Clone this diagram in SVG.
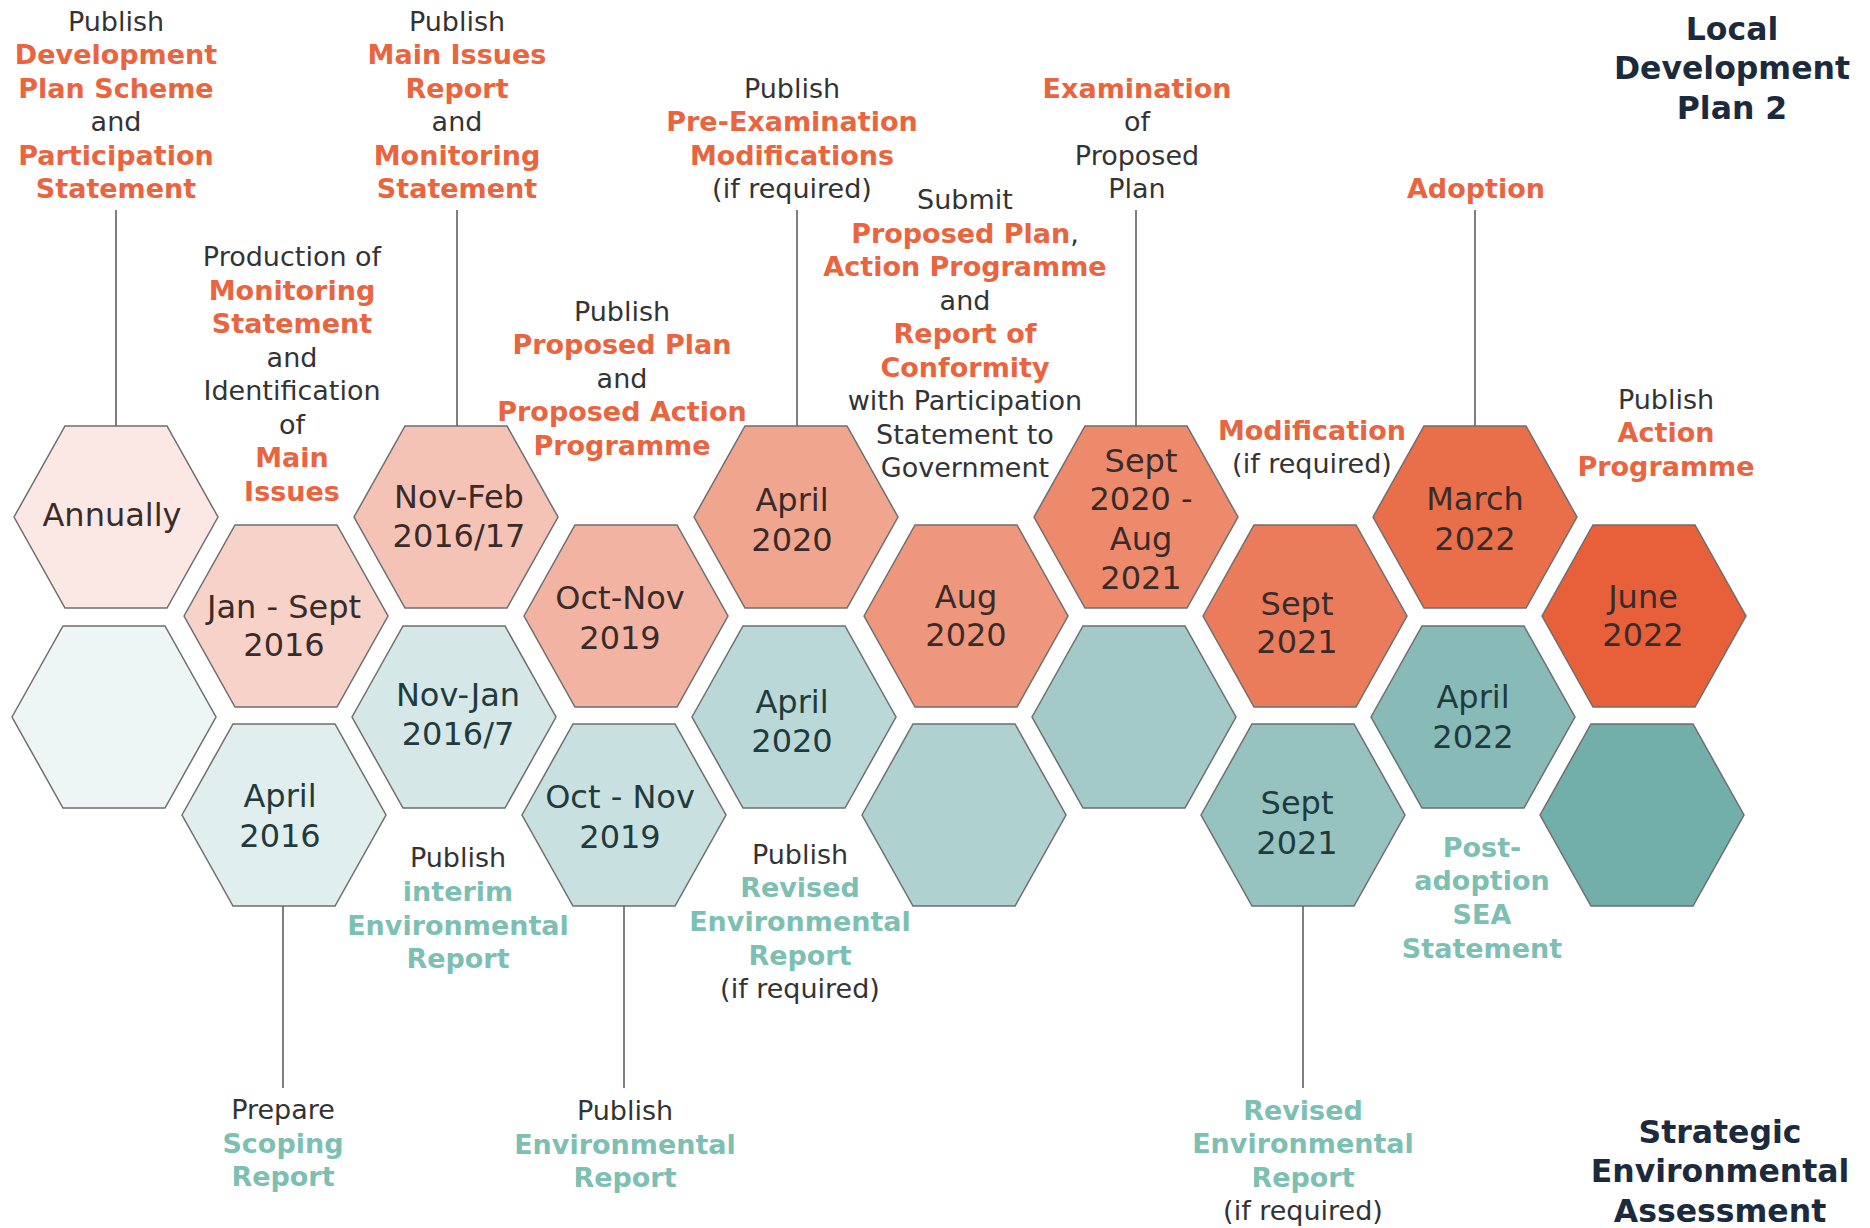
<svg xmlns="http://www.w3.org/2000/svg" width="1870" height="1228" viewBox="0 0 1870 1228">
<style>
text{font-family:"DejaVu Sans",Verdana,sans-serif;text-anchor:middle}
.lb{font-size:27px;fill:#333}
.o{font-weight:bold;fill:#e9653f}
.t{font-weight:bold;fill:#7dbfb3}
.hx{stroke:#6e6e6e;stroke-width:1.5}
.ht{font-size:32px;fill:#3a2b2b}
.tt{font-size:32px;fill:#1f3b3d}
.ttl{font-size:31.5px;font-weight:bold;fill:#1b2a3c}
.ln{stroke:#555;stroke-width:1.5;fill:none}
</style>
<defs>
<polygon id="hex" points="-102,0 -51,-91 51,-91 102,0 51,91 -51,91"/>
</defs>
<rect width="1870" height="1228" fill="#fff"/>

<g id="connectors">
<line class="ln" x1="116" y1="210" x2="116" y2="426"/>
<line class="ln" x1="457" y1="210" x2="457" y2="426"/>
<line class="ln" x1="797" y1="210" x2="797" y2="426"/>
<line class="ln" x1="1136" y1="210" x2="1136" y2="426"/>
<line class="ln" x1="1475" y1="210" x2="1475" y2="426"/>
<line class="ln" x1="283" y1="906" x2="283" y2="1088"/>
<line class="ln" x1="624" y1="906" x2="624" y2="1088"/>
<line class="ln" x1="1303" y1="906" x2="1303" y2="1088"/>
</g>

<!-- Orange hexes -->
<g id="h-annually"><use href="#hex" class="hx" transform="translate(116,517)" fill="#fbe8e4"/><text class="ht" x="112" y="525.5">Annually</text></g>
<g id="h-janSept2016"><use href="#hex" class="hx" transform="translate(286,616)" fill="#f6d2c8"/><text class="ht" x="284" y="617.5">Jan - Sept</text><text class="ht" x="284" y="656">2016</text></g>
<g id="h-novFeb"><use href="#hex" class="hx" transform="translate(456,517)" fill="#f4c3b6"/><text class="ht" x="459" y="507.5">Nov-Feb</text><text class="ht" x="459" y="547">2016/17</text></g>
<g id="h-octNov2019"><use href="#hex" class="hx" transform="translate(626,616)" fill="#f2b3a2"/><text class="ht" x="620" y="609">Oct-Nov</text><text class="ht" x="620" y="648.5">2019</text></g>
<g id="h-april2020"><use href="#hex" class="hx" transform="translate(796,517)" fill="#f0a58f"/><text class="ht" x="792" y="511">April</text><text class="ht" x="792" y="550.5">2020</text></g>
<g id="h-aug2020"><use href="#hex" class="hx" transform="translate(966,616)" fill="#ef977c"/><text class="ht" x="966" y="607.5">Aug</text><text class="ht" x="966" y="646">2020</text></g>
<g id="h-sept2020"><use href="#hex" class="hx" transform="translate(1136,517)" fill="#ed8a6c"/><text class="ht" x="1141" y="471.5">Sept</text><text class="ht" x="1141" y="510">2020 -</text><text class="ht" x="1141" y="549.5">Aug</text><text class="ht" x="1141" y="588.5">2021</text></g>
<g id="h-sept2021"><use href="#hex" class="hx" transform="translate(1305,616)" fill="#eb7c5b"/><text class="ht" x="1297" y="615">Sept</text><text class="ht" x="1297" y="653">2021</text></g>
<g id="h-march2022"><use href="#hex" class="hx" transform="translate(1475,517)" fill="#e96f4b"/><text class="ht" x="1475" y="510">March</text><text class="ht" x="1475" y="549.5">2022</text></g>
<g id="h-june2022"><use href="#hex" class="hx" transform="translate(1644,616)" fill="#e7603a"/><text class="ht" x="1643" y="607.5">June</text><text class="ht" x="1643" y="646">2022</text></g>

<!-- Teal hexes -->
<g id="s-empty0"><use href="#hex" class="hx" transform="translate(114,717)" fill="#eef5f5"/></g>
<g id="s-april2016"><use href="#hex" class="hx" transform="translate(284,815)" fill="#e1eeee"/><text class="tt" x="280" y="807">April</text><text class="tt" x="280" y="846.5">2016</text></g>
<g id="s-novJan"><use href="#hex" class="hx" transform="translate(454,717)" fill="#d5e7e7"/><text class="tt" x="458" y="705.5">Nov-Jan</text><text class="tt" x="458" y="745">2016/7</text></g>
<g id="s-octNov2019"><use href="#hex" class="hx" transform="translate(624,815)" fill="#c8e0df"/><text class="tt" x="620" y="808">Oct - Nov</text><text class="tt" x="620" y="847.5">2019</text></g>
<g id="s-april2020"><use href="#hex" class="hx" transform="translate(794,717)" fill="#bbd8d8"/><text class="tt" x="792" y="712.5">April</text><text class="tt" x="792" y="752">2020</text></g>
<g id="s-empty5"><use href="#hex" class="hx" transform="translate(964,815)" fill="#afd1d0"/></g>
<g id="s-empty6"><use href="#hex" class="hx" transform="translate(1134,717)" fill="#a3cac9"/></g>
<g id="s-sept2021"><use href="#hex" class="hx" transform="translate(1303,815)" fill="#96c2c0"/><text class="tt" x="1297" y="814">Sept</text><text class="tt" x="1297" y="853.5">2021</text></g>
<g id="s-april2022"><use href="#hex" class="hx" transform="translate(1473,717)" fill="#88bab8"/><text class="tt" x="1473" y="708">April</text><text class="tt" x="1473" y="747.5">2022</text></g>
<g id="s-empty9"><use href="#hex" class="hx" transform="translate(1642,815)" fill="#72aeaa"/></g>

<!-- Labels -->
<g id="lbl-dps"><text class="lb" x="116" y="31"><tspan x="116">Publish</tspan><tspan class="o" x="116" dy="33.4">Development</tspan><tspan class="o" x="116" dy="33.4">Plan Scheme</tspan><tspan x="116" dy="33.4">and</tspan><tspan class="o" x="116" dy="33.4">Participation</tspan><tspan class="o" x="116" dy="33.4">Statement</tspan></text></g>
<g id="lbl-production"><text class="lb" x="292" y="266"><tspan x="292">Production of</tspan><tspan class="o" x="292" dy="33.56">Monitoring</tspan><tspan class="o" x="292" dy="33.56">Statement</tspan><tspan x="292" dy="33.56">and</tspan><tspan x="292" dy="33.56">Identification</tspan><tspan x="292" dy="33.56">of</tspan><tspan class="o" x="292" dy="33.56">Main</tspan><tspan class="o" x="292" dy="33.56">Issues</tspan></text></g>
<g id="lbl-mir"><text class="lb" x="457" y="31"><tspan x="457">Publish</tspan><tspan class="o" x="457" dy="33.4">Main Issues</tspan><tspan class="o" x="457" dy="33.4">Report</tspan><tspan x="457" dy="33.4">and</tspan><tspan class="o" x="457" dy="33.4">Monitoring</tspan><tspan class="o" x="457" dy="33.4">Statement</tspan></text></g>
<g id="lbl-proposed"><text class="lb" x="622" y="321"><tspan x="622">Publish</tspan><tspan class="o" x="622" dy="33.4">Proposed Plan</tspan><tspan x="622" dy="33.4">and</tspan><tspan class="o" x="622" dy="33.4">Proposed Action</tspan><tspan class="o" x="622" dy="33.4">Programme</tspan></text></g>
<g id="lbl-preexam"><text class="lb" x="792" y="98"><tspan x="792">Publish</tspan><tspan class="o" x="792" dy="33.4">Pre-Examination</tspan><tspan class="o" x="792" dy="33.4">Modifications</tspan><tspan x="792" dy="33.4">(if required)</tspan></text></g>
<g id="lbl-submit"><text class="lb" x="965" y="209"><tspan x="965">Submit</tspan><tspan x="965" dy="33.5"><tspan class="o">Proposed Plan</tspan>,</tspan><tspan class="o" x="965" dy="33.5">Action Programme</tspan><tspan x="965" dy="33.5">and</tspan><tspan class="o" x="965" dy="33.5">Report of</tspan><tspan class="o" x="965" dy="33.5">Conformity</tspan><tspan x="965" dy="33.5">with Participation</tspan><tspan x="965" dy="33.5">Statement to</tspan><tspan x="965" dy="33.5">Government</tspan></text></g>
<g id="lbl-exam"><text class="lb" x="1137" y="98"><tspan class="o" x="1137">Examination</tspan><tspan x="1137" dy="33.4">of</tspan><tspan x="1137" dy="33.4">Proposed</tspan><tspan x="1137" dy="33.4">Plan</tspan></text></g>
<g id="lbl-modification"><text class="lb" x="1312" y="440"><tspan class="o" x="1312">Modification</tspan><tspan x="1312" dy="33.4">(if required)</tspan></text></g>
<g id="lbl-adoption"><text class="lb" x="1476" y="198"><tspan class="o">Adoption</tspan></text></g>
<g id="lbl-action"><text class="lb" x="1666" y="409"><tspan x="1666">Publish</tspan><tspan class="o" x="1666" dy="33.4">Action</tspan><tspan class="o" x="1666" dy="33.4">Programme</tspan></text></g>
<g id="title-ldp"><text class="ttl" x="1732" y="40"><tspan x="1732">Local</tspan><tspan x="1732" dy="39.3">Development</tspan><tspan x="1732" dy="39.3">Plan 2</tspan></text></g>

<g id="lbl-scoping"><text class="lb" x="283" y="1119"><tspan x="283">Prepare</tspan><tspan class="t" x="283" dy="33.6">Scoping</tspan><tspan class="t" x="283" dy="33.6">Report</tspan></text></g>
<g id="lbl-interim"><text class="lb" x="458" y="867"><tspan x="458">Publish</tspan><tspan class="t" x="458" dy="33.8">interim</tspan><tspan class="t" x="458" dy="33.8">Environmental</tspan><tspan class="t" x="458" dy="33.8">Report</tspan></text></g>
<g id="lbl-er"><text class="lb" x="625" y="1120"><tspan x="625">Publish</tspan><tspan class="t" x="625" dy="33.6">Environmental</tspan><tspan class="t" x="625" dy="33.6">Report</tspan></text></g>
<g id="lbl-revised1"><text class="lb" x="800" y="863.5"><tspan x="800">Publish</tspan><tspan class="t" x="800" dy="33.7">Revised</tspan><tspan class="t" x="800" dy="33.7">Environmental</tspan><tspan class="t" x="800" dy="33.7">Report</tspan><tspan x="800" dy="33.7">(if required)</tspan></text></g>
<g id="lbl-revised2"><text class="lb" x="1303" y="1120"><tspan class="t" x="1303">Revised</tspan><tspan class="t" x="1303" dy="33.4">Environmental</tspan><tspan class="t" x="1303" dy="33.4">Report</tspan><tspan x="1303" dy="33.4">(if required)</tspan></text></g>
<g id="lbl-postadoption"><text class="lb" x="1482" y="856.5"><tspan class="t" x="1482">Post-</tspan><tspan class="t" x="1482" dy="33.8">adoption</tspan><tspan class="t" x="1482" dy="33.8">SEA</tspan><tspan class="t" x="1482" dy="33.8">Statement</tspan></text></g>
<g id="title-sea"><text class="ttl" x="1720" y="1143"><tspan x="1720">Strategic</tspan><tspan x="1720" dy="39.3">Environmental</tspan><tspan x="1720" dy="39.3">Assessment</tspan></text></g>
</svg>
